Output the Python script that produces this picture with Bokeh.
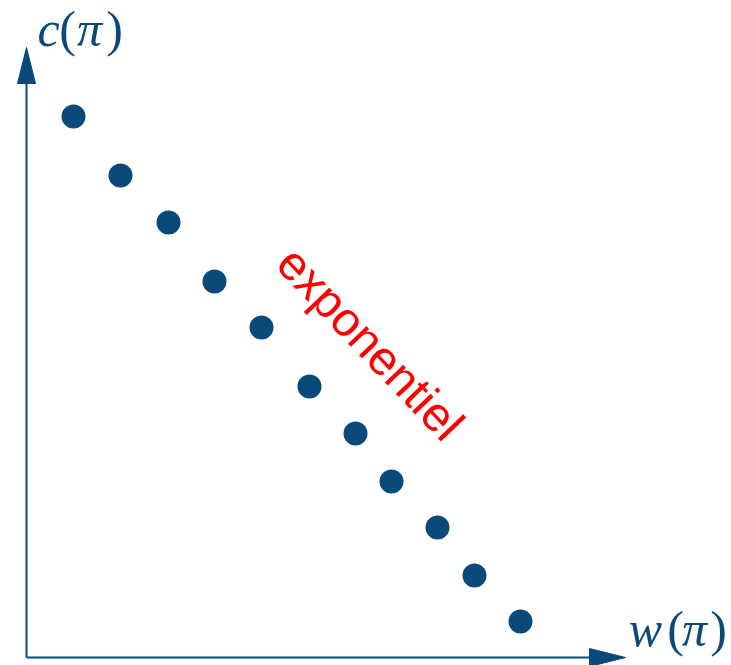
from bokeh.plotting import figure
from bokeh.models import Range1d, ColumnDataSource
from bokeh.core.properties import value
from bokeh.embed import file_html
from bokeh.resources import INLINE

# Efficient frontier sample: workload w(pi) against cost c(pi)
w_values = [47, 94, 142, 188, 235, 283, 329, 365, 411, 448, 494]
c_values = [541, 482, 435, 376, 330, 271, 224, 176, 130, 82, 36]

# axis labels, split into glyphs: italic letters, upright parentheses
y_label_parts = ["c", "(", "π", ")"]
x_label_parts = ["w", "(", "π", ")"]
label_styles = ["italic", "normal", "italic", "normal"]
annotation = "exponentiel"

BLUE = "#094a7b"
RED = "#ff0000"

W, H = 731, 665
p = figure(width=W, height=H, output_backend="svg", toolbar_location=None,
           x_range=Range1d(-26, W - 26), y_range=Range1d(-8, H - 8),
           min_border=0, min_border_left=0, min_border_right=0,
           min_border_top=0, min_border_bottom=0)
p.axis.visible = False
p.grid.visible = False
p.outline_line_color = None
p.background_fill_color = "white"
p.border_fill_color = "white"

# axes drawn as lines with filled arrow heads
y_tip, x_tip = 610, 599
head_len, head_half = 36, 9
p.segment(x0=[0, 0], y0=[0, 0], x1=[0, x_tip - head_len], y1=[y_tip - head_len, 0],
          line_color=BLUE, line_width=2)
p.patches(xs=[[-head_half, head_half, 0], [x_tip - head_len, x_tip - head_len, x_tip]],
          ys=[[y_tip - head_len, y_tip - head_len, y_tip], [-head_half, head_half, 0]],
          fill_color=BLUE, line_color=BLUE, line_width=1)

src = ColumnDataSource(dict(w=w_values, c=c_values))
p.scatter("w", "c", source=src, size=24, fill_color=BLUE, line_color=None)


def draw_label(parts, centers, baseline):
    for part, cx, style in zip(parts, centers, label_styles):
        p.text(x=[cx], y=[baseline], text=[part], text_font=value("Liberation Serif"),
               text_font_style=style, text_font_size="50px", text_color=BLUE,
               text_align="center", text_baseline="alphabetic")


draw_label(y_label_parts, [22, 41, 63, 88], 629)
draw_label(x_label_parts, [619, 649, 668, 692], 29)

p.text(x=[344], y=[314], text=[annotation], text_font=value("Liberation Sans"),
       text_font_size="48px", text_color=RED, angle=-0.81,
       text_align="center", text_baseline="middle")

open("out.html", "w").write(file_html(p, INLINE))
